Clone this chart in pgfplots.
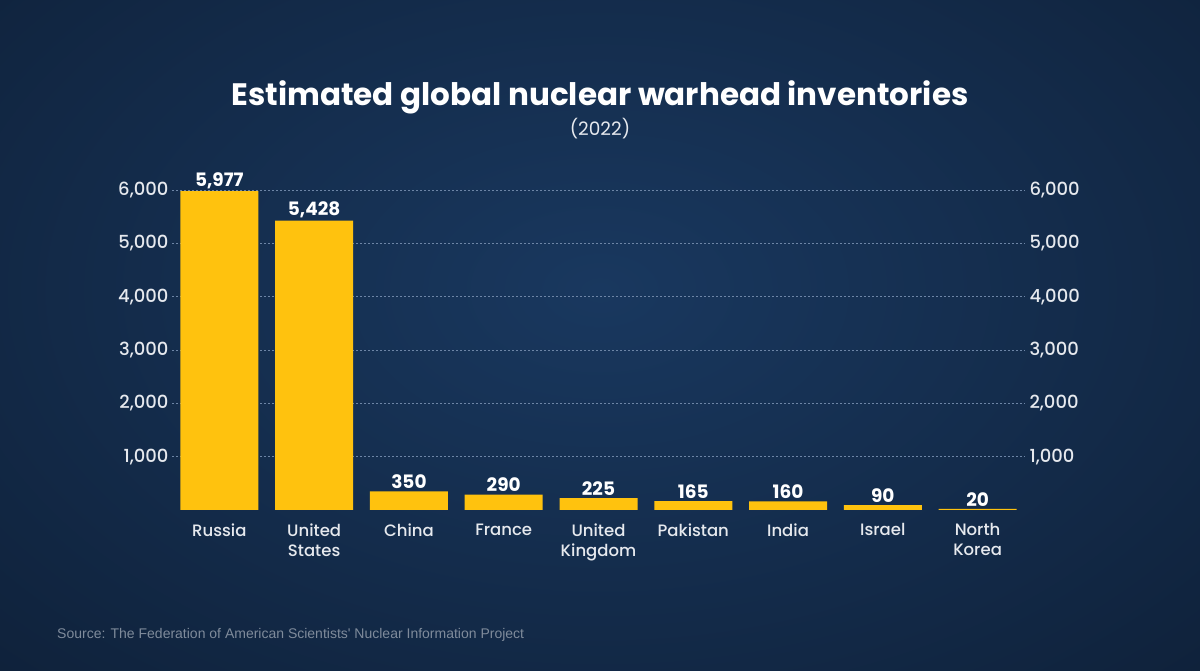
\documentclass[border=0pt]{standalone}
\usepackage{pgfplots}
\pgfplotsset{compat=1.18}
\usepackage{fontspec}
\setmainfont{Poppins}
\newfontfamily\medfont{Poppins Medium}
\newfontfamily\srcfont{Liberation Sans}
\definecolor{bgdark}{HTML}{0A1628}
\definecolor{bglight}{HTML}{19385F}
\definecolor{baryellow}{HTML}{FFC20E}
\definecolor{gridc}{HTML}{6D85A6}
\definecolor{labc}{HTML}{E6E9EE}
\definecolor{srcc}{HTML}{7F8B9B}
\begin{document}
\begin{tikzpicture}[x=1pt,y=1pt]
\fill[bgdark] (0,0) rectangle (1200,670);
\begin{scope}
\clip (0,0) rectangle (1200,670);
\shade[inner color=bglight, outer color=bgdark] (600,380) ellipse (1300 and 820);
\end{scope}
\pgfplotsset{
  common/.style={
    at={(172pt,160pt)}, anchor=south west, scale only axis,
    width=853pt, height=320pt,
    xmin=-0.5, xmax=8.5, ymin=0, ymax=6000,
    axis line style={draw=none}, major tick length=0pt,
    ytick={1000,2000,3000,4000,5000,6000},
    /pgf/number format/.cd, 1000 sep={,}, assume math mode=true, /pgfplots/.cd,
    yticklabel style={font=\medfont\fontsize{18}{20}\selectfont, text=labc},
    scaled y ticks=false,
  }
}
\begin{axis}[common,
    ybar, bar width=78pt,
    ymajorgrids, grid style={gridc, dash pattern=on 1.5pt off 2.5pt, line width=1pt},
    xtick={0,1,2,3,4,5,6,7,8},
    xticklabels={Russia,United\\States,China,France,United\\Kingdom,Pakistan,India,Israel,North\\Korea},
    xticklabel style={align=center, font=\medfont\fontsize{16.5}{20}\selectfont, text=labc, yshift=-10pt},
    nodes near coords,
    nodes near coords style={font=\bfseries\fontsize{18.5}{20}\selectfont, text=white, /pgf/number format/1000 sep={,}, /pgf/number format/assume math mode=true, yshift=-1pt},
    clip=false]
\addplot[fill=baryellow, draw=none] coordinates {(0,5977) (1,5428) (2,350) (3,290) (4,225) (5,165) (6,160) (7,90) (8,20)};
\end{axis}
\begin{axis}[common, yticklabel pos=right, xtick=\empty, yticklabel style={xshift=1pt}]
\end{axis}
\node[font=\bfseries\fontsize{31}{36}\selectfont, text=white] at (600,573) {Estimated global nuclear warhead inventories};
\node[font=\fontsize{18.5}{22}\selectfont, text=labc] at (600,541) {(2022)};
\node[anchor=west, font=\srcfont\fontsize{14}{16}\selectfont, text=srcc, inner sep=0pt] at (57,35) {Source: The Federation of American Scientists' Nuclear Information Project};
\end{tikzpicture}
\end{document}
